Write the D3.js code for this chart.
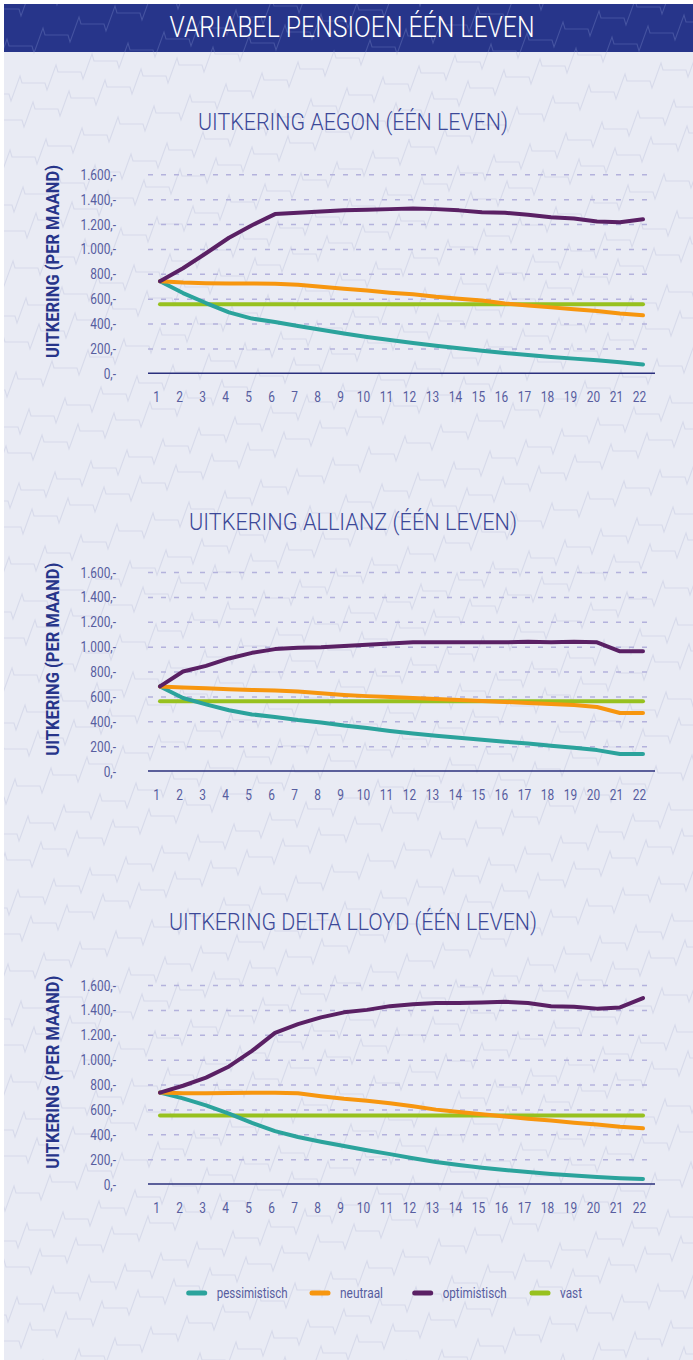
<!DOCTYPE html>
<html><head><meta charset="utf-8">
<script src="https://cdn.jsdelivr.net/npm/d3@7"></script>
<style>body{margin:0;background:#fff}svg{display:block}text{font-family:Roboto,"Noto Sans",sans-serif}</style>
</head><body><svg id="c" width="693" height="1360"></svg>
<script>
// ---------- data ----------
const years = ["1","2","3","4","5","6","7","8","9","10","11","12","13","14","15","16","17","18","19","20","21","22"];
const yTicks = [0,200,400,600,800,1000,1200,1400,1600];
const yTickLabels = ["0,-","200,-","400,-","600,-","800,-","1.000,-","1.200,-","1.400,-","1.600,-"];
const seriesNames = ["pessimistisch","neutraal","optimistisch","vast"];
const chartTitles = ["UITKERING AEGON (ÉÉN LEVEN)","UITKERING ALLIANZ (ÉÉN LEVEN)","UITKERING DELTA LLOYD (ÉÉN LEVEN)"];

const aegonPess = [740,645,565,490,440,413,380,350,320,292,268,244,222,202,182,163,147,132,118,105,88,70];
const aegonNeut = [740,730,725,722,722,720,712,695,680,665,648,635,615,600,585,562,545,530,515,500,480,466];
const aegonOpt  = [740,845,965,1090,1190,1280,1290,1300,1310,1315,1320,1325,1320,1310,1295,1290,1275,1255,1245,1220,1215,1238];
const aegonVast = [555,555,555,555,555,555,555,555,555,555,555,555,555,555,555,555,555,555,555,555,555,555];

const allianzPess = [680,587,536,488,455,435,410,390,365,345,322,301,284,268,252,236,221,203,186,168,136,136];
const allianzNeut = [680,672,665,658,652,648,640,626,612,602,594,586,578,570,562,555,547,538,530,515,466,466];
const allianzOpt  = [680,800,845,905,950,980,990,995,1005,1015,1025,1035,1035,1035,1035,1035,1040,1035,1040,1035,962,962];
const allianzVast = [560,560,560,560,560,560,560,560,560,560,560,560,560,560,560,560,560,560,560,560,560,560];

const deltaPess = [735,688,632,566,492,425,378,340,305,272,240,207,177,152,131,113,96,80,68,57,47,40];
const deltaNeut = [735,730,730,732,733,734,729,705,685,670,650,625,598,578,560,542,525,510,492,478,460,448];
const deltaOpt  = [735,790,855,945,1070,1215,1285,1340,1380,1400,1430,1445,1455,1455,1460,1465,1455,1430,1425,1410,1420,1495];
const deltaVast = [550,550,550,550,550,550,550,550,550,550,550,550,550,550,550,550,550,550,550,550,550,550];

// ---------- styles ----------
const colors = {pessimistisch:"#2ba39c", neutraal:"#f7960f", optimistisch:"#5a2064", vast:"#97c11f"};
const svg = d3.select("#c");

// background
svg.append("rect").attr("x",4).attr("y",52).attr("width",689).attr("height",1308).attr("fill","#e9ebf4");
svg.append("rect").attr("x",4).attr("y",4).attr("width",689).attr("height",48).attr("fill","#27358a");

const defs = svg.append("defs");
defs.append("clipPath").attr("id","cpBody").append("rect").attr("x",4).attr("y",52).attr("width",689).attr("height",1308);
defs.append("clipPath").attr("id","cpHead").append("rect").attr("x",4).attr("y",4).attr("width",689).attr("height",48);

function zig(x0,y0){
  let x=x0,y=y0,p=[[x,y]];
  const steps=[[23,0],[2,7],[9,-25],[2,7]];
  while(x<720){ for(const s of steps){x+=s[0];y+=s[1];p.push([x,y]);} }
  return p;
}
const lineGen = d3.line();
const rows = d3.range(-2,46);
function decor(clip,color){
  const g = svg.append("g").attr("clip-path",`url(#${clip})`);
  rows.forEach(k=>{
    g.append("path").attr("d",lineGen(zig(-40+((k*13)%36), k*37+20)))
      .attr("fill","none").attr("stroke",color).attr("stroke-width",1.1);
  });
}
decor("cpBody","#d7daea");
decor("cpHead","#4553a0");

// header title
svg.append("text").attr("x",352).attr("y",37).attr("text-anchor","middle")
  .attr("fill","#ffffff").attr("font-size",29).attr("font-weight",300)
  .attr("textLength",365).attr("lengthAdjust","spacingAndGlyphs")
  .text("VARIABEL PENSIOEN ÉÉN LEVEN");

// ---------- charts ----------
const charts = [
  {title:chartTitles[0], zero:373.3, titleY:130, titleW:310, data:[aegonPess,aegonNeut,aegonOpt,aegonVast]},
  {title:chartTitles[1], zero:771,   titleY:530, titleW:328, data:[allianzPess,allianzNeut,allianzOpt,allianzVast]},
  {title:chartTitles[2], zero:1184,  titleY:930, titleW:368, data:[deltaPess,deltaNeut,deltaOpt,deltaVast]}
];
const SX = 0.85;
const x = d3.scalePoint().domain(years).range([160,643]);

charts.forEach(c=>{
  const y = d3.scaleLinear().domain([0,1600]).range([c.zero, c.zero-199]);
  const g = svg.append("g");

  g.append("text").attr("x",353).attr("y",c.titleY).attr("text-anchor","middle")
    .attr("fill","#3c4898").attr("font-size",23).attr("font-weight",300)
    .attr("textLength",c.titleW).attr("lengthAdjust","spacingAndGlyphs").text(c.title);

  // grid
  const grid = g.append("g").attr("transform","translate(148,0)")
    .call(d3.axisLeft(y).tickValues(yTicks.slice(1)).tickSize(-507).tickFormat(""));
  grid.select(".domain").remove();
  grid.selectAll(".tick line").attr("stroke","#b4b2dc").attr("stroke-width",1.5).attr("stroke-dasharray","5,8");

  // y labels
  const ya = g.append("g").attr("transform","translate(148,0)")
    .call(d3.axisLeft(y).tickValues(yTicks).tickSize(0).tickFormat((d,i)=>yTickLabels[yTicks.indexOf(d)]));
  ya.select(".domain").remove();
  ya.selectAll("text").attr("x",-32/SX).attr("dy","0.36em").attr("transform",`scale(${SX},1)`)
    .attr("fill","#575d9f").attr("font-size",14).attr("font-family","Roboto");

  // x axis
  const xa = g.append("g").attr("transform",`translate(0,${c.zero})`)
    .call(d3.axisBottom(x).tickSize(0));
  xa.select(".domain").remove();
  xa.selectAll("text").attr("x",-4/SX).attr("y",29).attr("dy",0).attr("transform",`scale(${SX},1)`)
    .attr("fill","#575d9f").attr("font-size",14).attr("font-family","Roboto");
  g.append("line").attr("x1",148).attr("x2",655).attr("y1",y(0)).attr("y2",y(0))
    .attr("stroke","#2b307d").attr("stroke-width",1.6);

  // axis title
  g.append("text").attr("transform",`translate(59,${c.zero-111.8}) rotate(-90)`)
    .attr("text-anchor","middle").attr("fill","#27358a").attr("font-size",17.5).attr("font-weight",700)
    .attr("textLength",193).attr("lengthAdjust","spacingAndGlyphs").text("UITKERING (PER MAAND)");

  // lines
  const line = d3.line().x((d,i)=>x(years[i])).y(d=>y(d));
  [3,0,1,2].forEach(si=>{
    g.append("path").attr("d",line(c.data[si])).attr("fill","none")
      .attr("stroke",colors[seriesNames[si]]).attr("stroke-width",4)
      .attr("stroke-linecap","round").attr("stroke-linejoin","round");
  });
});

// ---------- legend ----------
const legendX = [186.7,310,412.7,530];
const legendW = [71,43,64,22];
const lg = svg.append("g");
seriesNames.forEach((n,i)=>{
  lg.append("line").attr("x1",legendX[i]+2).attr("x2",legendX[i]+18).attr("y1",1293).attr("y2",1293)
    .attr("stroke",colors[n]).attr("stroke-width",5).attr("stroke-linecap","round");
  lg.append("text").attr("x",legendX[i]+30).attr("y",1297.5).attr("fill","#575d9f").attr("font-size",15)
    .attr("textLength",legendW[i]).attr("lengthAdjust","spacingAndGlyphs").text(n);
});
</script></body></html>
